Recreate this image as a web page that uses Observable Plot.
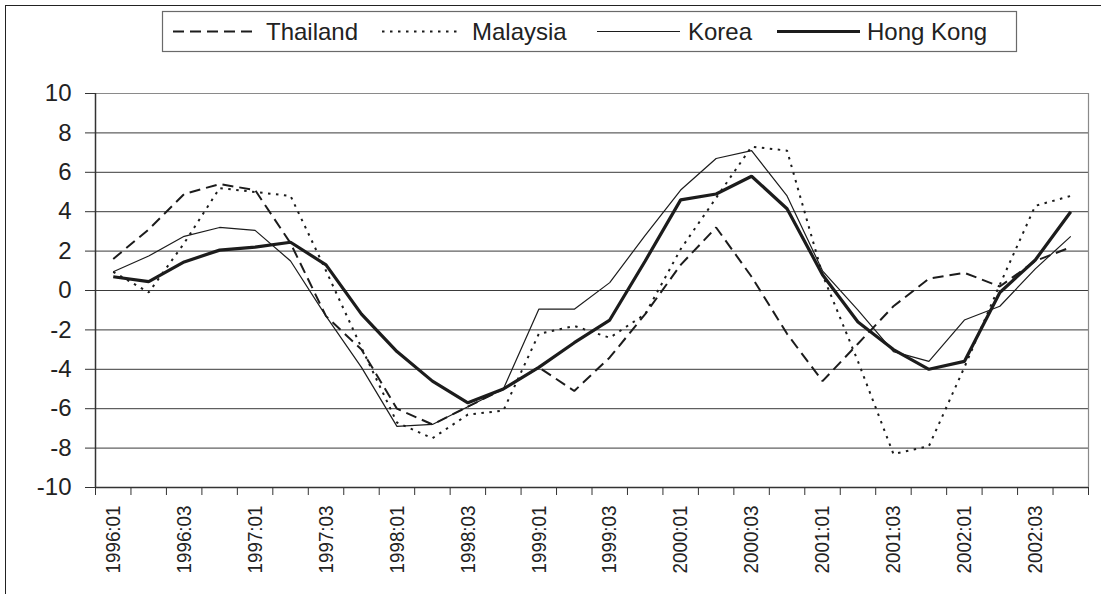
<!DOCTYPE html>
<html><head><meta charset="utf-8">
<script src="https://cdn.jsdelivr.net/npm/d3@7"></script>
<script src="https://cdn.jsdelivr.net/npm/@observablehq/plot@0.6"></script>
<style>
body{margin:0;background:#fff;}
#wrap{position:relative;width:1101px;height:594px;overflow:hidden;font-family:"Liberation Sans",Arial,sans-serif;background:#fff;}
#frame{position:absolute;left:5px;top:5px;width:1200px;height:700px;border-top:1.5px solid #222;border-left:1.5px solid #222;}
#chart{position:absolute;left:0;top:0;}
#legend{position:absolute;left:0;top:0;}
</style></head><body>
<div id="wrap"><div id="frame"></div><div id="chart"></div><svg id="legend" width="1101" height="60"></svg></div>
<script>
const quarters = ["1996:01","1996:02","1996:03","1996:04","1997:01","1997:02","1997:03","1997:04",
  "1998:01","1998:02","1998:03","1998:04","1999:01","1999:02","1999:03","1999:04",
  "2000:01","2000:02","2000:03","2000:04","2001:01","2001:02","2001:03","2001:04",
  "2002:01","2002:02","2002:03","2002:04"];
const thailand = [1.6, 3.1, 4.9, 5.4, 5.1, 2.4, -1.3, -3.0, -6.0, -6.8, -5.9, -5.0, -3.9, -5.1, -3.4, -1.2, 1.3, 3.2, 0.7, -2.2, -4.6, -2.7, -0.8, 0.6, 0.9, 0.2, 1.5, 2.2];
const malaysia = [0.95, -0.1, 2.4, 5.2, 5.0, 4.8, 1.0, -2.9, -6.7, -7.5, -6.3, -6.1, -2.2, -1.8, -2.4, -1.2, 2.1, 4.7, 7.3, 7.1, 0.8, -3.6, -8.3, -7.9, -3.9, 0.3, 4.3, 4.8];
const korea = [0.95, 1.75, 2.75, 3.2, 3.05, 1.5, -1.3, -3.9, -6.9, -6.8, -5.9, -5.0, -0.95, -0.95, 0.4, 2.8, 5.1, 6.7, 7.1, 4.8, 1.0, -1.0, -3.1, -3.6, -1.5, -0.8, 1.1, 2.75];
const hongkong = [0.7, 0.45, 1.45, 2.05, 2.2, 2.45, 1.3, -1.2, -3.1, -4.6, -5.7, -5.0, -3.9, -2.65, -1.5, 1.5, 4.6, 4.9, 5.8, 4.15, 0.8, -1.6, -3.0, -4.0, -3.6, -0.1, 1.55, 4.0];
const seriesNames = ["Thailand", "Malaysia", "Korea", "Hong Kong"];
const seriesValues = [thailand, malaysia, korea, hongkong];
const yTicks = [-10, -8, -6, -4, -2, 0, 2, 4, 6, 8, 10];

const ink = "#1c1c1c";
const styles = {
  "Thailand": {w: 2, dash: "11,6"},
  "Malaysia": {w: 2, dash: "2.5,5.5"},
  "Korea": {w: 1.2, dash: null},
  "Hong Kong": {w: 3.2, dash: null}
};

const n = quarters.length;
const data = seriesNames.flatMap((name, k) => seriesValues[k].map((v, i) => ({name, i: i + 0.5, v})));
const labelPos = quarters.map((q, i) => i + 0.5).filter((d, i) => i % 2 === 0);

const lineMarks = seriesNames.map(name => {
  const s = styles[name];
  const opts = {x: "i", y: "v", stroke: ink, strokeWidth: s.w, strokeLinecap: "butt", strokeLinejoin: "miter"};
  if (s.dash) opts.strokeDasharray = s.dash;
  return Plot.line(data.filter(d => d.name === name), opts);
});

const plot = Plot.plot({
  width: 1101, height: 594,
  marginTop: 93, marginBottom: 107, marginLeft: 95, marginRight: 13,
  style: {fontFamily: "'Liberation Sans', Arial, sans-serif", background: "transparent", color: "#222"},
  x: {type: "linear", domain: [0, n]},
  y: {domain: [-10, 10]},
  marks: [
    Plot.ruleY(yTicks.filter(d => d !== 10 && d !== -10), {stroke: "#3a3a3a", strokeWidth: 1}),
    Plot.ruleY([10], {stroke: "#8a8a8a", strokeWidth: 1.2}),
    Plot.ruleX([n], {stroke: "#8a8a8a", strokeWidth: 1.2}),
    Plot.axisY({ticks: yTicks, tickSize: 10, tickPadding: 14, fontSize: 24, tickFormat: d => String(d), label: null, stroke: "#333"}),
    Plot.axisX({ticks: d3.range(0, n + 1), tickSize: 8, tickFormat: () => "", label: null, stroke: "#333"}),
    Plot.axisX({ticks: labelPos, tickSize: 0, tickPadding: 18, tickRotate: -90, fontSize: 21,
      tickFormat: d => quarters[Math.round(d - 0.5)], label: null}),
    Plot.ruleX([0], {stroke: "#333", strokeWidth: 1.5}),
    Plot.ruleY([-10], {stroke: "#333", strokeWidth: 1.5}),
    ...lineMarks
  ]
});
// the reference's rotated labels are slightly condensed
d3.select(plot).selectAll('g[aria-label="x-axis tick label"] text')
  .filter(function() { return this.textContent.length > 0; })
  .attr("textLength", 68).attr("lengthAdjust", "spacingAndGlyphs");
document.getElementById("chart").appendChild(plot);

// legend
const leg = d3.select("#legend");
leg.append("rect").attr("x", 162.5).attr("y", 11.5).attr("width", 854).attr("height", 40)
  .attr("fill", "#fff").attr("stroke", "#6a6a6a").attr("stroke-width", 1.2);
const legendLayout = [[173, 252, 266], [382, 460, 472], [597, 680, 688], [777, 860, 867]];
seriesNames.forEach((name, k) => {
  const [a, b, t] = legendLayout[k];
  const s = styles[name];
  const ln = leg.append("line").attr("x1", a).attr("x2", b).attr("y1", 31.5).attr("y2", 31.5)
    .attr("stroke", ink).attr("stroke-width", s.w).attr("stroke-linecap", "butt");
  if (s.dash) ln.attr("stroke-dasharray", s.dash);
  leg.append("text").attr("x", t).attr("y", 40).attr("font-size", 24)
    .attr("font-family", "'Liberation Sans', Arial, sans-serif").attr("fill", "#222").text(name);
});
</script>
</body></html>
